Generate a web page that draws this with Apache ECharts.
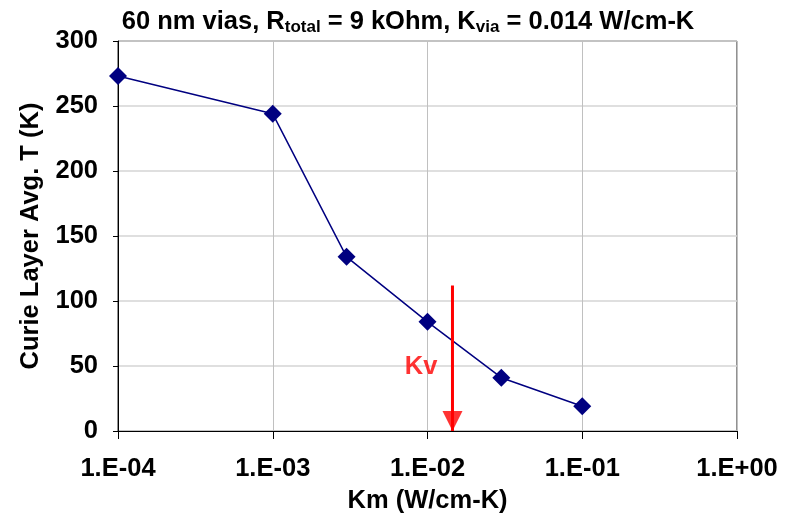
<!DOCTYPE html>
<html>
<head>
<meta charset="utf-8">
<script src="https://cdn.jsdelivr.net/npm/echarts@6/dist/echarts.min.js"></script>
<style>
html,body{margin:0;padding:0;background:#fff;}
#chart{width:788px;height:516px;}
</style>
</head>
<body>
<div id="chart"></div>
<script>
const kmValues = [1e-4, 1e-3, 3e-3, 1e-2, 3e-2, 1e-1];
const avgTemp = [273, 244, 134, 84, 41, 19];
const xTickLabels = ['1.E-04', '1.E-03', '1.E-02', '1.E-01', '1.E+00'];
const yTickLabels = ['0', '50', '100', '150', '200', '250', '300'];
const kvia = 0.0145;
const arrowTop = 112;
const arrowBottom = 0;
const kvLabel = [0.0091, 49];

const FONT = '"Liberation Sans", Arial, sans-serif';
const FS = 25.5;
const chart = echarts.init(document.getElementById('chart'), null, {renderer: 'canvas'});

chart.setOption({
  animation: false,
  backgroundColor: '#fff',
  title: {
    text: '60 nm vias, R{sub|total} = 9 kOhm, K{sub|via} = 0.014 W/cm-K',
    left: 403,
    textAlign: 'center',
    top: 2,
    textStyle: {
      fontFamily: FONT, fontWeight: 'bold', fontSize: FS, color: '#000',
      rich: {
        sub: {fontFamily: FONT, fontWeight: 'bold', fontSize: 17, color: '#000', padding: [12, 0, 0, 0]}
      }
    }
  },
  grid: {left: 118, right: 51, top: 41, bottom: 85, show: true, borderColor: '#222', borderWidth: 1, backgroundColor: 'transparent', containLabel: false, outerBoundsMode: 'none'},
  xAxis: {
    type: 'log', logBase: 10, min: 1e-4, max: 1,
    name: 'Km (W/cm-K)', nameLocation: 'middle', nameGap: 57,
    nameTextStyle: {fontFamily: FONT, fontWeight: 'bold', fontSize: FS, color: '#000'},
    axisLine: {show: true, lineStyle: {color: '#000', width: 1}},
    axisTick: {show: true, length: 8, lineStyle: {color: '#000'}},
    minorTick: {show: false},
    splitLine: {show: true, lineStyle: {color: '#c0c0c0', width: 1}},
    axisLabel: {
      fontFamily: FONT, fontWeight: 'bold', fontSize: FS, color: '#000', margin: 25,
      formatter: function (v) {
        const i = Math.round(Math.log10(v) + 4);
        return xTickLabels[i] !== undefined ? xTickLabels[i] : '';
      }
    }
  },
  yAxis: {
    type: 'value', min: 0, max: 300, interval: 50,
    name: 'Curie Layer Avg. T (K)', nameLocation: 'middle', nameGap: 74,
    nameTextStyle: {fontFamily: FONT, fontWeight: 'bold', fontSize: FS, color: '#000'},
    axisLine: {show: true, lineStyle: {color: '#000', width: 1}},
    axisTick: {show: true, length: 5, lineStyle: {color: '#000'}},
    splitLine: {show: true, lineStyle: {color: '#d4d4d4', width: 1.5}},
    axisLabel: {
      fontFamily: FONT, fontWeight: 'bold', fontSize: FS, color: '#000', margin: 20,
      formatter: function (v) {
        const i = Math.round(v / 50);
        return yTickLabels[i] !== undefined ? yTickLabels[i] : '';
      }
    }
  },
  series: [
    {
      type: 'line',
      data: kmValues.map((k, i) => [k, avgTemp[i]]),
      symbol: 'diamond', symbolSize: [18, 18],
      lineStyle: {color: '#000080', width: 1.5},
      itemStyle: {color: '#000080'},
      z: 5
    },
    {
      type: 'line',
      data: [[kvia, arrowTop], [kvia, arrowBottom]],
      symbol: 'none',
      lineStyle: {color: '#ff0000', width: 3},
      z: 6
    },
    {
      type: 'scatter',
      data: [[kvia, arrowBottom]],
      symbol: 'triangle', symbolRotate: 180, symbolSize: [20, 20], symbolOffset: [0, -10],
      itemStyle: {color: '#ff0000'},
      z: 7
    },
    {
      type: 'scatter',
      data: [kvLabel],
      symbolSize: 0,
      label: {show: true, position: 'inside', formatter: 'Kv', fontFamily: FONT, fontWeight: 'bold', fontSize: FS, color: '#ff0000'},
      z: 7
    }
  ]
});
</script>
</body>
</html>
